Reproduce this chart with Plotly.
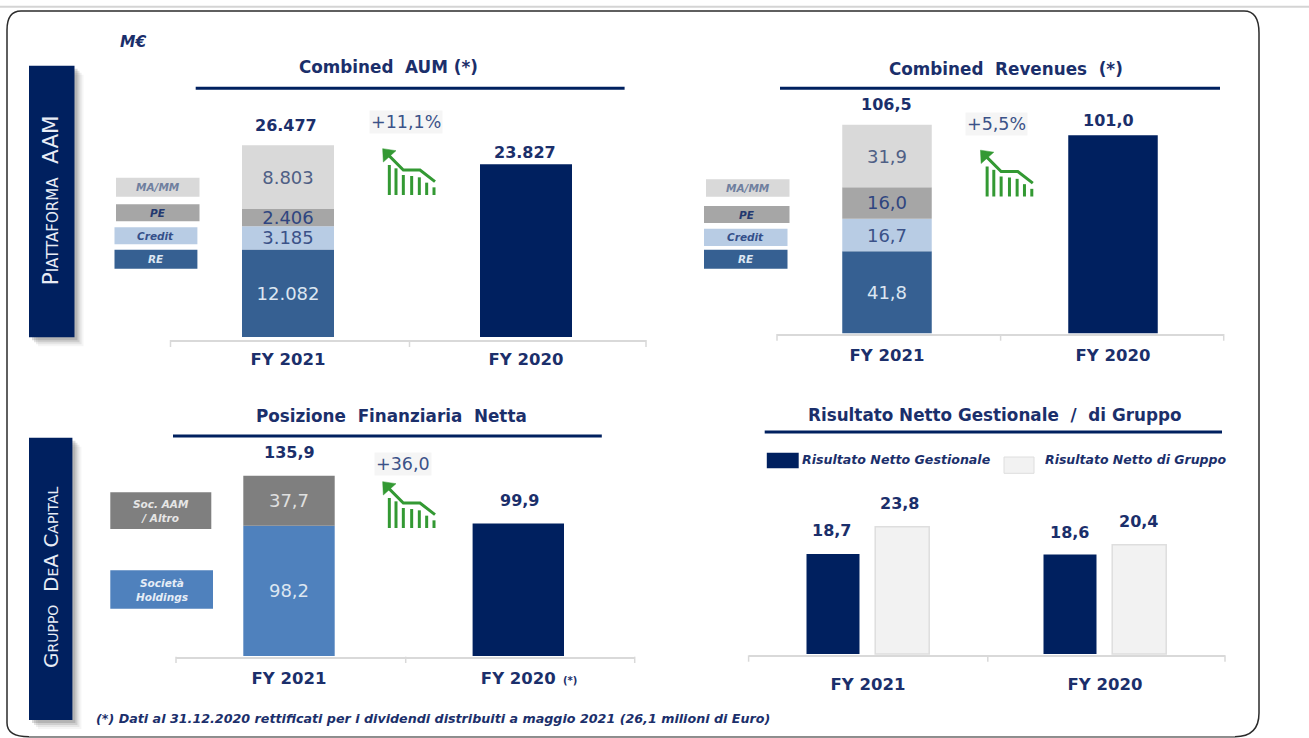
import plotly.graph_objects as go
import numpy as np

W, H = 1309, 738
NAVY = "#00205f"
TXT = "#1b2f6b"
FONT = "DejaVu Sans"

# ---------- data ----------
years = ["FY 2021", "FY 2020"]
aum_segments = {"RE": 12082, "Credit": 3185, "PE": 2406, "MA/MM": 8803}
aum_labels = ["12.082", "3.185", "2.406", "8.803"]
aum_2020 = 23827
aum_totals = ["26.477", "23.827"]
rev_segments = {"RE": 41.8, "Credit": 16.7, "PE": 16.0, "MA/MM": 31.9}
rev_labels = ["41,8", "16,7", "16,0", "31,9"]
rev_2020 = 101.0
rev_totals = ["106,5", "101,0"]
pfn_segments = {"Società Holdings": 98.2, "Soc. AAM / Altro": 37.7}
pfn_labels = ["98,2", "37,7"]
pfn_2020 = 99.9
pfn_totals = ["135,9", "99,9"]
net_gestionale = [18.7, 18.6]
net_gruppo = [23.8, 20.4]
net_gest_labels = ["18,7", "18,6"]
net_grup_labels = ["23,8", "20,4"]

SEG_COLORS = ["#366092", "#b8cce4", "#a6a6a6", "#d9d9d9"]
SEG_TEXT = ["#dce6f1", "#3b5288", "#2f4580", "#4f5f85"]
PFN_COLORS = ["#4f81bd", "#7f7f7f"]
PFN_TEXT = ["#dce6f1", "#e0e0e0"]

def fx(x): return x / W
def fy(y): return 1 - y / H

fig = go.Figure()
shapes, annos = [], []

def rect(x0, y0, x1, y1, fill, line=None, layer="below", opacity=1):
    shapes.append(dict(type="rect", xref="paper", yref="paper", x0=fx(x0), x1=fx(x1), y0=fy(y1), y1=fy(y0),
                       fillcolor=fill, opacity=opacity, layer=layer,
                       line=dict(color=line or fill, width=1 if line else 0)))

def hline(x0, x1, y, color, width):
    shapes.append(dict(type="line", xref="paper", yref="paper", x0=fx(x0), x1=fx(x1), y0=fy(y), y1=fy(y),
                       line=dict(color=color, width=width), layer="below"))

def vline(x, y0, y1, color, width, layer="below"):
    shapes.append(dict(type="line", xref="paper", yref="paper", x0=fx(x), x1=fx(x), y0=fy(y0), y1=fy(y1),
                       line=dict(color=color, width=width), layer=layer))

def text(x, y, s, size=12, color=TXT, bold=False, italic=False, anchor="center", angle=0, bg=None, variant=None, pad=1):
    f = dict(family=FONT, size=size, color=color, weight=700 if bold else 400, style="italic" if italic else "normal")
    if variant:
        f["variant"] = variant
    annos.append(dict(xref="paper", yref="paper", x=fx(x), y=fy(y), text=s, showarrow=False, font=f,
                      xanchor=anchor, yanchor="middle", textangle=angle, bgcolor=bg, borderpad=pad))

def panel(n, ax0, ax1, yline, ybase, ytop, c1, sep, scale, standoff, tick_mid, tick_bottom):
    """Configure axis pair n so that value 0 sits at pixel ybase, categories at c1 and c1+sep."""
    suffix = "" if n == 1 else str(n)
    lo = -(yline - ybase) / scale
    hi = (ybase - ytop) / scale
    fig.update_layout(**{
        "xaxis" + suffix: dict(domain=[fx(ax0), fx(ax1)], type="category", categoryorder="array", categoryarray=years,
                               range=[(ax0 - c1) / sep, (ax1 - c1) / sep], anchor="y" + suffix,
                               showline=True, linecolor="#d9d9d9", linewidth=1.5, ticks="", showgrid=False,
                               zeroline=False, ticklabelstandoff=standoff,
                               tickfont=dict(family=FONT, size=16.5, color=TXT, weight=700), fixedrange=True),
        "yaxis" + suffix: dict(domain=[fy(yline), fy(ytop)], range=[lo, hi], visible=False, anchor="x" + suffix,
                               fixedrange=True),
    })
    for xt in (ax0, tick_mid, ax1):
        vline(xt, yline, tick_bottom, "#d9d9d9", 1.5)

def stacked(n, segs, labels, colors, tcolors, size2020, width, fsize=18):
    axes = dict(xaxis="x" + ("" if n == 1 else str(n)), yaxis="y" + ("" if n == 1 else str(n)))
    vals = np.array(list(segs.values()), dtype=float)
    bases = np.concatenate([[0], np.cumsum(vals)[:-1]])
    for name, v, b, lab, c, tc in zip(segs, vals, bases, labels, colors, tcolors):
        fig.add_trace(go.Bar(x=[years[0]], y=[v], base=[b], name=name, width=width, offset=-width / 2,
                             marker=dict(color=c, line=dict(width=0)), text=[lab], textposition="inside",
                             insidetextanchor="middle", constraintext="none", textangle=0,
                             insidetextfont=dict(family=FONT, size=fsize, color=tc), showlegend=False, **axes))
    fig.add_trace(go.Bar(x=[years[1]], y=[size2020], name=years[1], width=width, offset=-width / 2,
                         marker=dict(color=NAVY, line=dict(width=0)), showlegend=False, **axes))
    return vals.sum()

def value_label(n, cat, val, s, up, dx=0, size=16):
    suf = "" if n == 1 else str(n)
    annos.append(dict(xref="x" + suf, yref="y" + suf, x=cat, y=val, text=s, showarrow=False, yanchor="middle",
                      yshift=up, xshift=dx, font=dict(family=FONT, size=size, color=TXT, weight=700)))

def icon(dx, dy):
    G = "#339933"
    xs = [88, 108, 130, 155, 178, 200, 222]
    tops = [195, 205, 225, 228, 232, 248, 262]
    for v, t in zip(xs, tops):
        vline(360 + v / 3 + dx, 100 + t / 3 + dy, 100 + 285 / 3 + dy, G, 3, "above")
    pts = [(78, 158), (130, 210), (180, 210), (225, 245)]
    p = " L".join(f"{fx(360 + a / 3 + dx)},{fy(100 + b / 3 + dy)}" for a, b in pts)
    shapes.append(dict(type="path", xref="paper", yref="paper", path="M" + p, line=dict(color=G, width=3), layer="above"))
    head = [(68, 146), (108, 152), (70, 186)]
    p = " L".join(f"{fx(360 + a / 3 + dx)},{fy(100 + b / 3 + dy)}" for a, b in head)
    shapes.append(dict(type="path", xref="paper", yref="paper", path="M" + p + " Z", fillcolor=G,
                       line=dict(color=G, width=0.5), layer="above"))

def box(x0, y0, x1, y1, fill, label, color, size=10.5):
    rect(x0, y0, x1, y1, fill)
    text((x0 + x1) / 2, (y0 + y1) / 2, label, size=size, color=color, italic=True, bold=True)

TITLE_SIZE = 16.8
PCT_SIZE = 17.5
PCT_BG = "#f5f5f5"

# ---------- page furniture ----------
hline(0, W, 6.7, "#d4d4d4", 2)
L, R, T, B = 7, 1259, 11, 736.7
frame = (f"M{fx(21)},{fy(T)} L{fx(1244)},{fy(T)} Q{fx(R)},{fy(T)} {fx(R)},{fy(33)} L{fx(R)},{fy(713)} "
         f"Q{fx(R)},{fy(B)} {fx(1235)},{fy(B)} L{fx(29)},{fy(B)} Q{fx(L)},{fy(B)} {fx(L)},{fy(723)} "
         f"L{fx(L)},{fy(30)} Q{fx(L)},{fy(T)} {fx(21)},{fy(T)} Z")
shapes.append(dict(type="path", xref="paper", yref="paper", path=frame, line=dict(color="#2b2b2b", width=1.5), layer="below"))
hline(29, 1235, B, "#8c8c8c", 1.5)

# side banners with soft shadows
for (x0, y0, x1, y1) in [(29, 65.7, 74.5, 337.3), (29, 437.7, 72.4, 720)]:
    for k, op in [(9, 0.06), (7, 0.10), (5, 0.16), (3, 0.22)]:
        rect(x0 + k, y0 + k, x1 + k, y1 + k, "#5a5a5a", opacity=op)
    rect(x0, y0, x1, y1, NAVY)
text(51.3, 200, "Piattaforma&#160;&#160;AAM", size=21.5, color="#e8ecf5", angle=-90, variant="small-caps")
text(50.5, 577.5, "Gruppo&#160;&#160;DeA&#160;Capital", size=20, color="#e8ecf5", angle=-90, variant="small-caps")

text(133, 42.3, "M€", size=15.5, bold=True, italic=True)

# ---------- panel 1: Combined AUM ----------
panel(1, 170.5, 646, 340, 337, 100, 288, 238, 1 / 138, 3, 409.5, 347)
stacked(1, aum_segments, aum_labels, SEG_COLORS, SEG_TEXT, aum_2020, 92 / 238)
value_label(1, years[0], sum(aum_segments.values()), aum_totals[0], 19.7, dx=-2)
value_label(1, years[1], aum_2020, aum_totals[1], 11.7, dx=-1)
text(388, 66.7, "Combined&#160;&#160;AUM&#160;(*)", size=TITLE_SIZE, bold=True)
hline(195.7, 624.6, 88.3, NAVY, 3)
text(405.7, 122.3, "+11,1%", size=PCT_SIZE, color="#3b5288", bg=PCT_BG)
icon(0, 0)
box(116, 177.7, 199.5, 196.7, SEG_COLORS[3], "MA/MM", "#6f7f9f")
box(116, 204.3, 199.5, 221.3, SEG_COLORS[2], "PE", "#23386f")
box(114.5, 227.3, 197.4, 244.3, SEG_COLORS[1], "Credit", "#34508a")
box(114.5, 249.7, 197.4, 268.7, SEG_COLORS[0], "RE", "#dce6f1")

# ---------- panel 2: Combined Revenues ----------
panel(2, 777, 1223.7, 334, 333.3, 100, 887, 226, 1.96, 5, 1000.6, 340.7)
stacked(2, rev_segments, rev_labels, SEG_COLORS, SEG_TEXT, rev_2020, 89.5 / 226)
value_label(2, years[0], sum(rev_segments.values()), rev_totals[0], 20, dx=-1)
value_label(2, years[1], rev_2020, rev_totals[1], 15, dx=-5)
text(1006, 69, "Combined&#160;&#160;Revenues&#160;&#160;(*)", size=TITLE_SIZE, bold=True)
hline(780, 1220, 88.3, NAVY, 3)
text(996.5, 124, "+5,5%", size=PCT_SIZE, color="#3b5288", bg=PCT_BG)
icon(597.8, 1.5)
box(706, 179.3, 789.5, 196.7, SEG_COLORS[3], "MA/MM", "#6f7f9f")
box(704, 206, 789.5, 223, SEG_COLORS[2], "PE", "#23386f")
box(704, 228.7, 787.5, 246, SEG_COLORS[1], "Credit", "#34508a")
box(704, 249.7, 787.5, 268.7, SEG_COLORS[0], "RE", "#dce6f1")

# ---------- panel 3: Posizione Finanziaria Netta ----------
panel(3, 176, 634.7, 656.7, 656, 440, 289, 229.3, 1.327, 6, 405.7, 663)
stacked(3, pfn_segments, pfn_labels, PFN_COLORS, PFN_TEXT, pfn_2020, 91.4 / 229.3)
value_label(3, years[0], sum(pfn_segments.values()), pfn_totals[0], 23)
value_label(3, years[1], pfn_2020, pfn_totals[1], 23, dx=1)
text(392, 416.3, "Posizione&#160;&#160;Finanziaria&#160;&#160;Netta", size=TITLE_SIZE, bold=True)
hline(173, 601.8, 436, NAVY, 3)
text(402.8, 464.3, "+36,0", size=PCT_SIZE, color="#3b5288", bg=PCT_BG)
icon(0, 333)
text(570, 680, "(*)", size=10, bold=True)
box(110.3, 492.3, 211.3, 529, PFN_COLORS[1], "Soc. AAM<br>/ Altro", "#e6e6e6", size=10.5)
box(110.3, 570.3, 213, 608.7, PFN_COLORS[0], "Società<br>Holdings", "#e6edf6", size=10.5)

# ---------- panel 4: Risultato Netto ----------
panel(4, 748.6, 1225, 655.3, 654, 470, 868, 237, 5.35, 13, 987.8, 661.7)
fig.add_trace(go.Bar(x=years, y=net_gestionale, name="Risultato Netto Gestionale", width=53 / 237, offset=-61.5 / 237,
                     marker=dict(color=NAVY, line=dict(width=0)), showlegend=False, xaxis="x4", yaxis="y4"))
fig.add_trace(go.Bar(x=years, y=net_gruppo, name="Risultato Netto di Gruppo", width=54 / 237, offset=7.2 / 237,
                     marker=dict(color="#f2f2f2", line=dict(color="#dedede", width=1.5)), showlegend=False,
                     xaxis="x4", yaxis="y4"))
for yr, g, gl, r, rl in zip(years, net_gestionale, net_gest_labels, net_gruppo, net_grup_labels):
    gap = 23.6 if yr == years[0] else 21.7
    gap2 = 23.6
    value_label(4, yr, g, gl, gap, dx=-37 if yr == years[0] else -35.2)
    value_label(4, yr, r, rl, gap2, dx=31 if yr == years[0] else 33)
text(994, 414.7, "Risultato Netto Gestionale&#160;&#160;/&#160;&#160;di Gruppo", size=TITLE_SIZE, bold=True)
hline(764.7, 1222, 432, NAVY, 3)
rect(766.8, 452.7, 798.7, 468.3, NAVY)
text(800.4, 459.7, "Risultato Netto Gestionale", size=12.6, bold=True, italic=True, anchor="left")
rect(1004, 457, 1034, 473.3, "#f2f2f2", line="#dedede")
text(1043.4, 459.7, "Risultato Netto di Gruppo", size=12.5, bold=True, italic=True, anchor="left")

# footnote
text(94, 718.3, "(*) Dati al 31.12.2020 rettificati per i dividendi distribuiti a maggio 2021 (26,1 milioni di Euro)",
     size=12.7, bold=True, italic=True, anchor="left")

fig.update_layout(width=W, height=H, margin=dict(l=0, r=0, t=0, b=0, pad=0), barmode="overlay",
                  paper_bgcolor="white", plot_bgcolor="rgba(0,0,0,0)", shapes=shapes, annotations=annos,
                  showlegend=False, font=dict(family=FONT, color=TXT))

fig.write_html("out.html", post_script="document.body.style.margin='0';",
               config=dict(displayModeBar=False))
